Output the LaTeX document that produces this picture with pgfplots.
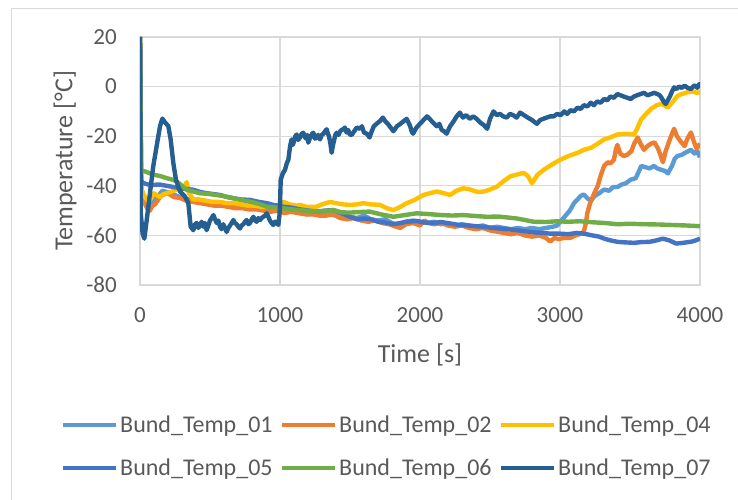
\documentclass[border=0pt]{standalone}
\usepackage{pgfplots}
\pgfplotsset{compat=1.18}
\usepackage{fontspec}
\setmainfont{Carlito}
\definecolor{cA}{HTML}{5B9BD5}
\definecolor{cB}{HTML}{ED7D31}
\definecolor{cC}{HTML}{FFC000}
\definecolor{cD}{HTML}{4472C4}
\definecolor{cE}{HTML}{70AD47}
\definecolor{cF}{HTML}{255E91}
\definecolor{gridc}{HTML}{D9D9D9}
\definecolor{txt}{HTML}{595959}
\newcommand{\lgbox}[1]{\makebox[158pt][l]{#1}}
\begin{document}
\begin{tikzpicture}[font=\fontsize{23}{27}\selectfont]
\useasboundingbox (0pt,0pt) rectangle (738pt,500pt);
\draw[gridc, line width=1.3pt] (11.5pt,-2pt) -- (11.5pt,491.5pt) -- (740pt,491.5pt);
\begin{axis}[
  at={(140pt,215pt)}, anchor=south west,
  scale only axis, width=560pt, height=248pt,
  xmin=0, xmax=4000, ymin=-80, ymax=20,
  xtick={0,1000,2000,3000,4000},
  ytick={-80,-60,-40,-20,0,20},
  /pgf/number format/assume math mode=true,
  /pgf/number format/1000 sep={},
  scaled x ticks=false,
  major tick length=0pt,
  grid=major,
  major grid style={gridc, line width=1.3pt},
  axis line style={gridc, line width=1.3pt},
  tick label style={txt},
  xticklabel style={anchor=center, yshift=-30pt},
  yticklabel style={anchor=east, inner sep=0pt, xshift=-23pt},
  every axis x label/.style={at={(axis description cs:0.5,-0.282)}, anchor=center, txt, font=\fontsize{26}{30}\selectfont},
  every axis y label/.style={at={(axis description cs:-0.134,0.5)}, anchor=center, rotate=90, txt, font=\fontsize{26}{30}\selectfont},
  xlabel={Time [s]},
  ylabel={Temperature [°C]},
  legend columns=3,
  legend style={draw=none, fill=none, inner sep=0pt, at={(axis description cs:-0.141,-0.652)}, anchor=west,
    text=txt, row sep=21pt, font=\fontsize{24}{28}\selectfont,
    /tikz/every even column/.append style={column sep=0pt}},
  legend image code/.code={\draw[#1, line width=4pt] (0pt,0pt) -- (53pt,0pt);},
  every axis plot/.append style={line width=4.4pt, line join=round},
]
\addplot[cA] coordinates {(0,20) (8,-40) (20,-44) (40,-46) (60,-49) (80,-47) (100,-46) (130,-44) (160,-42) (190,-42.5) (220,-43) (260,-44) (300,-45) (350,-45.5) (400,-46.5) (450,-46) (500,-47) (550,-47.5) (600,-48) (650,-47.5) (700,-48.5) (750,-48) (800,-49) (850,-49.5) (900,-49) (950,-50) (1000,-49.5) (1050,-50) (1100,-50.5) (1150,-51) (1200,-51.5) (1250,-51) (1300,-52) (1350,-51.5) (1400,-52) (1450,-53) (1500,-52.5) (1550,-53) (1600,-52) (1650,-53.5) (1700,-54) (1750,-53.5) (1800,-55) (1850,-56) (1900,-54.5) (1950,-54) (2000,-54.5) (2050,-55) (2100,-54.5) (2150,-55.5) (2200,-55) (2250,-56) (2300,-55.5) (2350,-56) (2400,-56.5) (2450,-56) (2500,-57) (2550,-56.5) (2600,-57) (2650,-57.5) (2700,-57) (2750,-57.5) (2800,-57) (2850,-57.5) (2900,-57) (2950,-56.5) (2980,-56) (3010,-54) (3040,-52) (3070,-50) (3100,-47) (3125,-45.5) (3150,-44) (3170,-43.5) (3195,-45) (3220,-46) (3250,-44) (3280,-43) (3315,-41.5) (3350,-42) (3380,-40.5) (3410,-40.5) (3440,-39.5) (3470,-39) (3505,-37.5) (3540,-37) (3565,-34) (3580,-32) (3610,-32.5) (3640,-33) (3670,-32) (3695,-33) (3720,-33.5) (3750,-34) (3770,-35) (3800,-32) (3820,-29) (3840,-28) (3870,-27.5) (3900,-26.5) (3935,-25.5) (3960,-27) (3980,-26) (4000,-28.5)};
\addlegendentry{\lgbox{Bund\_Temp\_01}}
\addplot[cB] coordinates {(0,20) (8,-43) (25,-46) (50,-49) (70,-50) (90,-48) (107,-47.5) (125,-46) (143,-44.5) (170,-43.5) (200,-43) (240,-44.5) (290,-45) (330,-46) (380,-46.5) (430,-47) (480,-47.5) (530,-48) (580,-48) (630,-48.5) (680,-49) (730,-49) (780,-49.5) (830,-49.5) (880,-50) (930,-50.5) (980,-50) (1030,-51) (1080,-50.5) (1130,-51) (1180,-51.5) (1230,-51.5) (1280,-52) (1330,-52) (1380,-51.5) (1430,-53) (1480,-53.5) (1530,-53) (1580,-54) (1630,-54.5) (1680,-54) (1730,-55) (1780,-55.5) (1830,-56.5) (1860,-57) (1900,-55.5) (1950,-55) (2000,-56) (2030,-54) (2060,-55) (2100,-55.5) (2150,-55) (2200,-56) (2250,-56.5) (2300,-56) (2350,-57) (2400,-57.5) (2450,-57) (2500,-58) (2550,-58.5) (2600,-59) (2650,-59.5) (2700,-59) (2750,-60) (2800,-60.5) (2850,-60) (2900,-61) (2930,-62.5) (2960,-61) (2990,-61.5) (3030,-61) (3075,-61) (3110,-60) (3140,-59.5) (3170,-58.5) (3185,-55) (3195,-51) (3215,-47) (3245,-43) (3270,-40) (3290,-36) (3315,-32) (3340,-30.5) (3360,-31) (3385,-29.5) (3400,-25) (3410,-23.5) (3430,-27) (3455,-28) (3480,-27.5) (3510,-26) (3530,-23) (3555,-20.5) (3575,-23) (3600,-25.5) (3625,-24) (3650,-23) (3675,-22.5) (3700,-25) (3720,-28) (3735,-30.5) (3755,-26) (3780,-22) (3800,-19) (3815,-17) (3835,-20) (3860,-22) (3890,-24) (3910,-21) (3935,-18.5) (3955,-22) (3975,-25) (4000,-23)};
\addlegendentry{\lgbox{Bund\_Temp\_02}}
\addplot[cC] coordinates {(0,20) (8,-41) (30,-44) (60,-46.5) (80,-45) (100,-43) (125,-44) (143,-44.5) (165,-43.5) (190,-43) (220,-42.5) (262,-41.5) (290,-41) (320,-40) (333,-38.5) (350,-43) (381,-45.5) (420,-45.5) (470,-46) (520,-46.5) (570,-46.5) (620,-47) (670,-47) (720,-47.5) (770,-48) (820,-48) (870,-48.5) (905,-48.5) (950,-48) (1000,-47.5) (1024,-46.5) (1070,-47.5) (1120,-48) (1143,-47.7) (1190,-48.5) (1240,-48.5) (1262,-48.4) (1300,-47.5) (1357,-46.5) (1400,-47) (1450,-47.5) (1500,-47.7) (1550,-47.5) (1595,-47) (1650,-47.5) (1715,-47.7) (1760,-49) (1810,-49.8) (1860,-48.5) (1905,-47) (1950,-46) (2000,-44.5) (2025,-43.7) (2070,-43) (2120,-42.3) (2170,-43) (2215,-43.7) (2260,-42) (2310,-41) (2360,-41.5) (2410,-42.5) (2455,-42.3) (2500,-41.5) (2550,-40.3) (2600,-38) (2645,-36.2) (2690,-35.5) (2740,-34.8) (2770,-36) (2800,-39) (2840,-35.5) (2885,-33.5) (2940,-31.5) (3005,-29.4) (3060,-28) (3125,-26.7) (3170,-25.5) (3220,-24.7) (3270,-23) (3315,-21.3) (3360,-20.5) (3410,-19.3) (3470,-19) (3530,-19.3) (3555,-16.5) (3580,-13.2) (3615,-11) (3650,-9) (3690,-7.5) (3720,-7) (3745,-7.5) (3770,-8.4) (3800,-6.5) (3840,-3.7) (3870,-3) (3910,-2.3) (3950,-2) (3975,-2.5) (4000,-2.3)};
\addlegendentry{\lgbox{Bund\_Temp\_04}}
\addplot[cD] coordinates {(0,20) (8,-38) (24,-38.9) (60,-39.5) (95,-39.6) (140,-39.5) (190,-40) (240,-40.5) (286,-41) (330,-41.3) (381,-41.6) (430,-42.5) (476,-43) (520,-43.3) (571,-43.7) (620,-44.5) (667,-45) (720,-45.5) (786,-45.7) (850,-46.5) (905,-47) (960,-47.8) (1024,-48.4) (1080,-48.8) (1143,-49.5) (1200,-50) (1262,-50.4) (1320,-50) (1381,-49.8) (1440,-51) (1500,-52.5) (1550,-53.5) (1600,-53.2) (1650,-53.5) (1700,-54.5) (1750,-54.8) (1810,-55.5) (1860,-55) (1900,-54.5) (1976,-54.2) (2030,-54.8) (2100,-55) (2150,-54.6) (2215,-55.2) (2280,-55.8) (2340,-56) (2400,-56.3) (2455,-56.5) (2520,-57) (2580,-57.3) (2640,-57.6) (2693,-57.9) (2760,-58.4) (2820,-58.8) (2880,-59) (2930,-59.3) (3000,-59.3) (3060,-59.5) (3120,-59) (3170,-59.3) (3230,-60) (3280,-60.5) (3315,-61.3) (3360,-62) (3410,-62.6) (3460,-62.8) (3530,-63) (3580,-62.7) (3640,-62.6) (3690,-62) (3735,-61.3) (3780,-62) (3830,-63.3) (3880,-63) (3940,-62.5) (3970,-62) (4000,-61.3)};
\addlegendentry{\lgbox{Bund\_Temp\_05}}
\addplot[cE] coordinates {(0,20) (8,-34) (36,-34.2) (95,-35.5) (140,-36) (190,-36.9) (230,-37.5) (262,-38.2) (300,-40) (333,-41.6) (380,-42.3) (429,-43) (490,-43.3) (548,-43.7) (610,-44.3) (667,-45) (730,-45.8) (786,-46.4) (850,-47.3) (905,-48.4) (960,-48.7) (1024,-49.1) (1080,-49.5) (1143,-49.8) (1200,-50.1) (1262,-50.4) (1320,-50.2) (1381,-49.8) (1440,-50.7) (1500,-50.8) (1560,-50.6) (1640,-50.4) (1720,-51.5) (1810,-52.5) (1890,-51.8) (1976,-51.1) (2060,-51.4) (2150,-51.8) (2230,-52) (2310,-51.8) (2400,-52.2) (2480,-52.5) (2560,-52.4) (2630,-52.8) (2693,-53.2) (2750,-53.8) (2812,-54.5) (2900,-54.6) (2980,-54.3) (3060,-54.5) (3140,-54.3) (3230,-54.7) (3320,-55) (3410,-55.5) (3500,-55.3) (3600,-55.5) (3700,-55.6) (3800,-55.8) (3900,-56) (4000,-56.3)};
\addlegendentry{\lgbox{Bund\_Temp\_06}}
\addplot[cF] coordinates {(0,20) (5,-51) (19,-59.3) (31,-61.3) (48,-53.8) (71,-43) (95,-32) (119,-24) (143,-15.9) (160,-12.9) (179,-14.5) (202,-15.9) (219,-21.3) (238,-30.8) (257,-37.6) (286,-42.3) (321,-44.3) (345,-47) (362,-56.5) (381,-57.9) (393,-55.5) (405,-55) (417,-57) (429,-55.8) (440,-54.5) (452,-56.5) (464,-55) (476,-57.9) (488,-56) (500,-54) (512,-53) (524,-51.8) (536,-53.5) (548,-55) (560,-54) (571,-56.5) (583,-57.5) (595,-55.5) (607,-57) (619,-58.6) (631,-57) (643,-56) (655,-55) (667,-53.8) (678,-55) (690,-55.5) (702,-56.5) (714,-57.2) (726,-56) (738,-55.5) (750,-54.5) (762,-53.8) (774,-55.5) (786,-55) (798,-53.5) (810,-52.5) (822,-54) (833,-54.5) (845,-53) (857,-53.8) (869,-53) (881,-52.5) (893,-52) (905,-51.1) (917,-52.5) (928,-54) (940,-55) (952,-55.8) (961,-54.5) (970,-54.5) (980,-55) (988,-55.8) (996,-52) (1000,-48) (1005,-37.6) (1020,-35) (1036,-33.5) (1048,-31) (1060,-29.4) (1072,-24) (1083,-21.3) (1092,-23.5) (1100,-22) (1110,-20) (1119,-19.3) (1130,-21.5) (1143,-20.5) (1155,-19) (1167,-18.6) (1176,-20) (1185,-21) (1195,-19.5) (1202,-22.6) (1212,-21) (1220,-20) (1230,-19) (1238,-18.6) (1250,-21) (1260,-20.5) (1272,-19.5) (1286,-21.3) (1298,-19.5) (1310,-19) (1322,-18) (1333,-17.2) (1342,-19) (1350,-20) (1360,-23) (1369,-26.7) (1377,-24) (1385,-22) (1395,-19.5) (1405,-18.6) (1418,-19.5) (1430,-18) (1440,-17.5) (1452,-17.2) (1463,-16.5) (1475,-18.5) (1487,-17.5) (1498,-19.3) (1512,-19.5) (1530,-18) (1548,-16.5) (1570,-17) (1585,-16) (1600,-18.5) (1620,-19) (1640,-20.5) (1655,-18) (1670,-16) (1690,-15) (1712,-14) (1735,-12.5) (1752,-14) (1770,-15) (1790,-16.5) (1810,-18) (1835,-16) (1860,-15) (1882,-14) (1905,-13) (1918,-14.5) (1930,-16) (1940,-18) (1950,-19) (1975,-16.5) (2000,-15) (2025,-13.5) (2050,-12) (2068,-13) (2085,-14) (2102,-15) (2120,-16) (2138,-15) (2155,-17.5) (2172,-18) (2190,-19) (2215,-16) (2240,-14) (2262,-12) (2285,-10.5) (2307,-12.5) (2330,-11.5) (2355,-13) (2380,-12) (2405,-13) (2430,-14.5) (2455,-15.5) (2480,-17) (2500,-13) (2525,-10) (2548,-11.5) (2570,-11) (2595,-12) (2620,-12.5) (2642,-11) (2665,-11.5) (2690,-12.5) (2715,-10.5) (2742,-11.5) (2770,-12.5) (2800,-13.5) (2835,-15) (2858,-13.5) (2880,-13) (2905,-12.5) (2930,-12) (2955,-12) (2980,-11) (3005,-11.5) (3030,-10) (3052,-11) (3075,-9.5) (3100,-10) (3125,-8.5) (3148,-9) (3170,-7.5) (3195,-8) (3220,-6.5) (3242,-7.5) (3265,-6) (3290,-6.5) (3315,-5) (3338,-5.5) (3360,-4) (3385,-4.5) (3410,-3) (3432,-3.5) (3455,-4) (3480,-4.5) (3505,-5) (3528,-4) (3550,-3.5) (3575,-3) (3600,-2.5) (3625,-3.5) (3650,-3) (3672,-2.5) (3695,-3) (3712,-3.5) (3725,-4.5) (3740,-6) (3755,-7) (3770,-5.5) (3785,-4) (3800,-2) (3815,-0.3) (3832,-1) (3850,0) (3870,-0.5) (3890,0.4) (3912,-0.5) (3935,-1) (3950,0) (3965,0.5) (3980,-0.5) (3995,1) (4000,0.5)};
\addlegendentry{\lgbox{Bund\_Temp\_07}}
\end{axis}
\end{tikzpicture}
\end{document}
